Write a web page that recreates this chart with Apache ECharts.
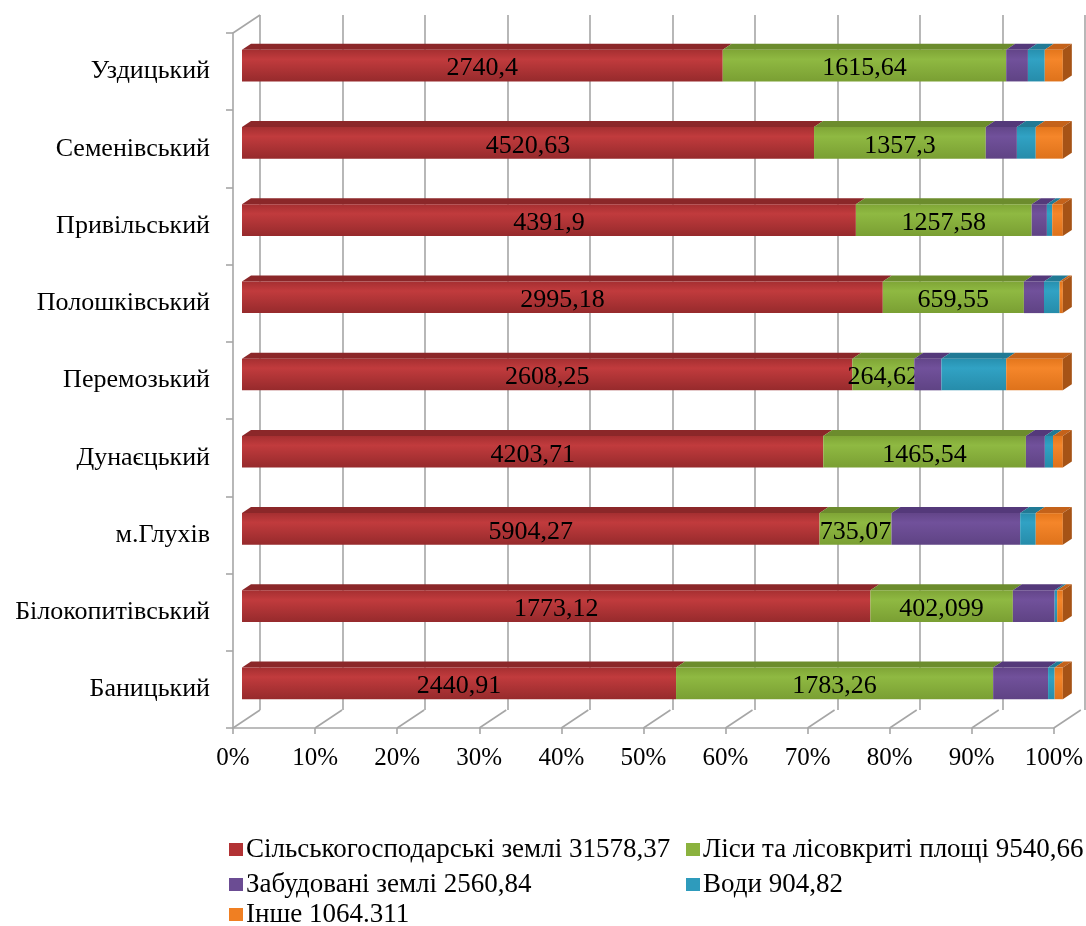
<!DOCTYPE html>
<html><head><meta charset="utf-8">
<script src="https://cdn.jsdelivr.net/npm/echarts@6/dist/echarts.min.js"></script>
<style>html,body{margin:0;padding:0;background:#fff}#c{width:1086px;height:926px}</style>
</head><body><div id="c"></div>
<script>
// ---- data (top-to-bottom order) ----
const categories = ['Уздицький','Семенівський','Привільський','Полошківський','Перемозький','Дунаєцький','м.Глухів','Білокопитівський','Баницький'];
const agri   = [2740.4, 4520.63, 4391.9, 2995.18, 2608.25, 4203.71, 5904.27, 1773.12, 2440.91];
const forest = [1615.64, 1357.3, 1257.58, 659.55, 264.62, 1465.54, 735.07, 402.099, 1783.26];
const built  = [124, 246, 109, 94, 116, 137, 1316, 118, 309];
const water  = [96, 149, 38, 73, 277, 59, 159, 7, 37];
const other  = [103, 214, 76, 15, 242, 71, 277, 16, 46];
const seriesNames = ['Сільськогосподарські землі 31578,37','Ліси та лісовкриті площі 9540,66','Забудовані землі 2560,84','Води 904,82','Інше 1064.311'];
const xTicks = [0,10,20,30,40,50,60,70,80,90,100];

// ---- styling ----
const FONT = 'Liberation Serif';
const DEPTH = [27, -18];
const OFF = [DEPTH[0]/3, DEPTH[1]/3];
const palettes = [
  {front:['#A52F31','#C13B3D','#962A2C'], top:'#8B2729', side:'#7A2224', legend:'#B23234'},
  {front:['#7FA536','#8FB942','#7A9F33'], top:'#6C8C2D', side:'#5F7C28', legend:'#8BB23E'},
  {front:['#634589','#71519B','#5F4384'], top:'#54397A', side:'#4A326B', legend:'#6B4C93'},
  {front:['#2790AF','#31A2C4','#268CAA'], top:'#217A95', side:'#1C6B83', legend:'#2E9BBC'},
  {front:['#E4761C','#F5862A','#DE721B'], top:'#C4621A', side:'#A65316', legend:'#F07F22'}
];
const layers = [agri, forest, built, water, other];
const labeled = [true, true, false, false, false];
const totals = categories.map((c,i)=>layers.reduce((s,l)=>s+l[i],0));

function fmt(v){ return String(v).replace('.', ','); }

const barSeries = layers.map((layer, k) => {
  const data = categories.map((c, i) => {
    let start = 0;
    for (let j = 0; j < k; j++) start += layers[j][i];
    return [i, start/totals[i]*100, (start+layer[i])/totals[i]*100, layer[i]];
  });
  const pal = palettes[k];
  return {
    type: 'custom', name: seriesNames[k], xAxisIndex: 1, yAxisIndex: 1,
    itemStyle: {color: pal.legend}, clip: false, z: 10 + k,
    encode: {x: [1,2], y: 0},
    data,
    renderItem(params, api) {
      const s = api.coord([api.value(1), api.value(0)]);
      const e = api.coord([api.value(2), api.value(0)]);
      const h = api.size([0,1])[1] * 0.41;
      const x0 = s[0] + OFF[0], x1 = e[0] + OFF[0];
      const y0 = s[1] + OFF[1] - h/2;
      const children = [
        {type:'polygon', shape:{points:[[x0,y0],[x1,y0],[x1+OFF[0],y0+OFF[1]],[x0+OFF[0],y0+OFF[1]]]}, style:{fill:pal.top}},
        {type:'rect', shape:{x:x0, y:y0, width:Math.max(0,x1-x0), height:h},
          style:{fill:{type:'linear',x:0,y:0,x2:0,y2:1,colorStops:[{offset:0,color:pal.front[0]},{offset:0.3,color:pal.front[1]},{offset:1,color:pal.front[2]}]}}}
      ];
      if (k === layers.length - 1) {
        children.push({type:'polygon', shape:{points:[[x1,y0],[x1+OFF[0],y0+OFF[1]],[x1+OFF[0],y0+OFF[1]+h],[x1,y0+h]]}, style:{fill:pal.side}});
      }
      if (labeled[k]) {
        children.push({type:'text', style:{text: fmt(api.value(3)), x:(x0+x1)/2, y:y0+h/2+3, align:'center', verticalAlign:'middle', fontSize:26, fontFamily:FONT, fill:'#000'}});
      }
      return {type:'group', children};
    }
  };
});

const floorSeries = {
  type:'custom', xAxisIndex:1, yAxisIndex:1, clip:false, z:2, silent:true,
  encode:{x:0, y:1},
  data: xTicks.map(v => [v, 0]),
  renderItem(params, api) {
    const cs = params.coordSys;
    const p = api.coord([api.value(0), 0]);
    const yb = cs.y + cs.height;
    const st = {stroke:'#A6A6A6', lineWidth:1.6};
    const ch = [{type:'line', shape:{x1:p[0], y1:yb, x2:p[0]+DEPTH[0], y2:yb+DEPTH[1]}, style:st}];
    if (params.dataIndex === 0) {
      ch.push({type:'line', shape:{x1:cs.x, y1:cs.y, x2:cs.x+DEPTH[0], y2:cs.y+DEPTH[1]}, style:st});
    }
    return {type:'group', children: ch};
  }
};

const legendPos = [[229,836],[686,836],[229,871],[686,871],[229,901]];

const option = {
  animation: false,
  backgroundColor: '#fff',
  grid: [
    {left: 233+DEPTH[0], top: 33+DEPTH[1], width: 825, height: 695},
    {left: 233, top: 33, width: 825, height: 695}
  ],
  xAxis: [
    {gridIndex:0, type:'value', min:0, max:100, interval:10,
      axisLine:{show:false}, axisTick:{show:false}, axisLabel:{show:false},
      splitLine:{show:true, lineStyle:{color:'#A6A6A6', width:1.6}}},
    {gridIndex:1, type:'value', min:0, max:100, interval:10,
      axisLine:{show:true, onZero:false, lineStyle:{color:'#A6A6A6', width:1.6}},
      axisTick:{show:true, length:6, lineStyle:{color:'#A6A6A6', width:1.6}},
      axisLabel:{formatter:'{value}%', fontSize:25, fontFamily:FONT, color:'#000', margin:18},
      splitLine:{show:false}}
  ],
  yAxis: [
    {gridIndex:0, type:'category', data:categories, inverse:true, show:false},
    {gridIndex:1, type:'category', data:categories, inverse:true,
      axisLine:{show:true, lineStyle:{color:'#A6A6A6', width:1.6}},
      axisTick:{show:true, length:7, lineStyle:{color:'#A6A6A6', width:1.6}},
      axisLabel:{fontSize:26, fontFamily:FONT, color:'#000', margin:23},
      splitLine:{show:false}}
  ],
  legend: seriesNames.map((n, k) => ({
    left: legendPos[k][0], top: legendPos[k][1], data:[n], icon:'rect',
    itemWidth:14, itemHeight:13, itemGap:0, padding:0, selectedMode:false,
    textStyle:{fontSize:27, fontFamily:FONT, color:'#000', padding:[0,0,0,-2]}
  })),
  series: [floorSeries, ...barSeries]
};

const chart = echarts.init(document.getElementById('c'), null, {renderer:'canvas'});
chart.setOption(option);
</script>
</body></html>
